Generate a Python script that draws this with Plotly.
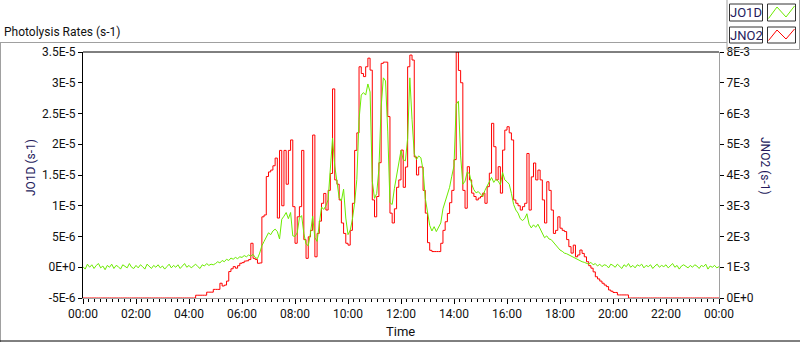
import plotly.graph_objects as go

# ---- data (5-minute samples, 00:00 .. 24:00) ----
STEP_MIN = 5
N_SAMPLES = 289
hours = [i * STEP_MIN / 60 for i in range(N_SAMPLES)]

# JO1D in units of 1E-6 s-1
jo1d_e6 = [
    0.1, -0.3, 0.5, 0.0, 0.4, -0.2, 0.3, 0.6, -0.1, 0.2, -0.4, 0.3,
    0.0, 0.5, -0.2, 0.3, 0.1, -0.3, 0.4, 0.2, -0.1, 0.6, 0.0, -0.2,
    0.3, -0.1, 0.4, 0.1, -0.3, 0.5, 0.2, -0.2, 0.3, 0.0, 0.4, -0.1,
    0.2, -0.3, 0.1, 0.5, -0.1, 0.3, 0.0, 0.4, -0.2, 0.2, 0.6, 0.0,
    0.3, -0.1, 0.2, 0.5, 0.1, -0.2, 0.4, 0.2, 0.6, 0.3, 0.5, 0.4,
    0.6, 0.9, 0.7, 1.1, 0.9, 1.3, 1.1, 1.5, 1.3, 1.6, 1.4, 1.7,
    1.6, 1.9, 1.7, 2.0, 1.8, 2.1, 1.6, 1.4, 2.3, 3.5, 4.2, 4.8,
    5.6, 5.3, 5.9, 6.2, 5.8, 4.6, 7.8, 8.3, 8.9, 7.9, 8.9, 5.1,
    5.0, 5.6, 8.0, 8.4, 5.5, 3.8, 3.5, 5.5, 8.3, 4.8, 4.2, 7.0,
    9.8, 9.4, 10.0, 11.0, 15.8, 21.0, 16.5, 13.5, 11.3, 10.8, 12.7, 8.0,
    5.3, 6.0, 7.8, 10.5, 14.3, 24.0, 28.0, 28.4, 28.0, 29.8, 28.5, 14.0,
    11.2, 12.0, 16.0, 26.0, 30.8, 30.3, 22.0, 10.5, 10.2, 12.8, 15.0, 16.8,
    19.0, 17.5, 17.3, 21.0, 30.8, 24.0, 18.5, 17.5, 18.1, 17.8, 15.8, 11.2,
    8.8, 6.8, 5.9, 6.6, 5.8, 6.5, 7.2, 9.5, 10.8, 11.9, 13.0, 14.8,
    16.5, 26.5, 27.0, 18.1, 13.5, 14.0, 15.5, 15.2, 13.5, 12.6, 12.1, 12.3,
    11.8, 11.5, 12.5, 13.2, 14.0, 14.6, 13.8, 14.3, 14.0, 13.4, 15.4, 14.2,
    13.9, 13.5, 12.0, 10.2, 9.3, 8.8, 7.9, 7.6, 7.9, 8.7, 7.0, 6.4,
    6.9, 6.5, 7.0, 6.3, 5.6, 4.8, 5.1, 4.6, 4.5, 4.1, 3.6, 3.2,
    2.8, 2.6, 2.3, 2.2, 2.0, 1.8, 1.6, 1.4, 1.3, 1.1, 0.9, 0.8,
    0.7, 0.5, 0.8, 0.4, 0.6, 0.2, 0.5, 0.1, 0.4, 0.3, -0.1, 0.5,
    0.3, 0.0, 0.5, 0.2, -0.2, 0.4, 0.1, 0.6, 0.0, 0.3, -0.1, 0.4,
    0.2, 0.5, -0.1, 0.3, 0.1, 0.4, -0.2, 0.2, 0.5, 0.0, 0.3, 0.1,
    0.4, -0.1, 0.2, 0.6, 0.0, 0.3, -0.3, 0.2, 0.4, 0.1, -0.1, 0.3,
    0.0, 0.4, 0.2, -0.2, 0.3, 0.1, 0.5, -0.3, 0.2, 0.0, 0.3, -0.1,
    0.1,
]

# JNO2 in units of 1E-3 s-1
jno2_e3 = [
    0, 0, 0, 0, 0, 0, 0, 0, 0, 0, 0, 0,
    0, 0, 0, 0, 0, 0, 0, 0, 0, 0, 0, 0,
    0, 0, 0, 0, 0, 0, 0, 0, 0, 0, 0, 0,
    0, 0, 0, 0, 0, 0, 0, 0, 0, 0, 0, 0,
    0, 0, 0, 0.09, 0.09, 0.09, 0.09, 0.09, 0.19, 0.19, 0.19, 0.28,
    0.28, 0.28, 0.48, 0.39, 0.42, 0.55, 0.86, 0.95, 1.02, 0.97, 1.05, 1.13,
    1.15, 1.2, 1.21, 1.25, 1.78, 1.29, 1.25, 1.13, 1.14, 2.64, 2.7, 3.95,
    4.1, 4.16, 4.3, 4.55, 2.6, 4.8, 3.0, 4.8, 3.7, 4.8, 5.14, 2.97,
    1.78, 2.64, 2.97, 4.8, 1.9, 1.29, 1.99, 2.2, 5.3, 1.34, 2.1, 2.5,
    3.08, 3.4, 2.86, 3.5, 4.05, 6.8, 3.84, 3.7, 3.19, 2.44, 2.1, 1.78,
    1.72, 2.2, 3.08, 4.8, 5.37, 7.52, 7.3, 7.2, 7.52, 7.8, 7.41, 3.19,
    2.64, 3.3, 4.4, 7.63, 7.67, 7.67, 5.9, 2.76, 2.44, 2.9, 3.6, 3.84,
    4.81, 3.6, 4.26, 7.52, 7.9, 7.74, 4.59, 4.0, 4.26, 4.26, 3.5, 2.76,
    1.8, 1.55, 1.51, 1.51, 1.51, 1.51, 1.78, 2.2, 2.48, 2.75, 3.1, 3.5,
    4.5, 8.0, 7.4, 7.0, 3.5, 2.92, 4.27, 3.84, 3.41, 3.3, 3.19, 3.25,
    3.3, 3.41, 3.08, 3.62, 4.06, 5.68, 4.92, 3.84, 4.27, 3.41, 4.81, 5.46,
    5.57, 5.37, 5.14, 3.19, 3.08, 3.0, 2.86, 2.97, 3.08, 4.7, 2.86, 3.94,
    4.39, 3.84, 4.16, 3.84, 3.19, 2.44, 3.78, 3.5, 2.86, 2.1, 2.2, 2.64,
    2.27, 2.2, 2.16, 1.9, 1.67, 1.46, 1.72, 1.34, 1.4, 1.56, 1.45, 1.34,
    1.18, 1.05, 0.97, 0.85, 0.69, 0.62, 0.55, 0.48, 0.42, 0.37, 0.26, 0.22,
    0.18, 0.18, 0.1, 0.1, 0.1, 0.1, 0.1, 0, 0, 0, 0, 0,
    0, 0, 0, 0, 0, 0, 0, 0, 0, 0, 0, 0,
    0, 0, 0, 0, 0, 0, 0, 0, 0, 0, 0, 0,
    0, 0, 0, 0, 0, 0, 0, 0, 0, 0, 0, 0,
    0,
]

x_tickvals = [0, 2, 4, 6, 8, 10, 12, 14, 16, 18, 20, 22, 24]
x_ticktext = ["00:00", "02:00", "04:00", "06:00", "08:00", "10:00", "12:00",
              "14:00", "16:00", "18:00", "20:00", "22:00", "00:00"]
left_tickvals = [-5, 0, 5, 10, 15, 20, 25, 30, 35]
left_ticktext = ["-5E-6", "0E+0", "5E-6", "1E-5", "1.5E-5", "2E-5", "2.5E-5", "3E-5", "3.5E-5"]
right_tickvals = [0, 1, 2, 3, 4, 5, 6, 7, 8]
right_ticktext = ["0E+0", "1E-3", "2E-3", "3E-3", "4E-3", "5E-3", "6E-3", "7E-3", "8E-3"]

GREEN = "#6CEB00"
RED = "#FF0000"
FONT = "Roboto"
TXT = "#111111"
TITLE_TXT = "#251a5c"

W, H = 800, 342
L, R, T, B = 83, 81, 52, 44
PW, PH = W - L - R, H - T - B


def px(x):
    return (x - L) / PW


def py(y):
    return (H - B - y) / PH


fig = go.Figure()
fig.add_trace(go.Scatter(x=hours, y=jno2_e3, mode="lines", name="JNO2",
                         line=dict(color=RED, width=1, shape="hv"), yaxis="y"))
fig.add_trace(go.Scatter(x=hours, y=jo1d_e6, mode="lines", name="JO1D",
                         line=dict(color=GREEN, width=1), yaxis="y2"))

minor_vals = [i * 2 / 9 for i in range(109)]

fig.update_layout(
    width=W, height=H, autosize=False,
    margin=dict(l=L, r=R, t=T, b=B, pad=0),
    paper_bgcolor="white", plot_bgcolor="white",
    showlegend=False,
    font=dict(family=FONT, size=12, color=TXT),
    xaxis=dict(range=[0, 24], tickmode="array", tickvals=x_tickvals, ticktext=x_ticktext,
               showgrid=False, zeroline=False, showline=True, linecolor="#a0a0a0", linewidth=1,
               ticks="outside", ticklen=5, tickcolor="#000", tickwidth=1,
               tickfont=dict(family=FONT, size=12, color=TXT),
               minor=dict(tickmode="array", tickvals=minor_vals, ticks="outside",
                          ticklen=3, tickcolor="#000", tickwidth=1, showgrid=False)),
    yaxis=dict(range=[0, 8], side="right", tickmode="array", tickvals=right_tickvals,
               ticktext=right_ticktext, showgrid=False, zeroline=False, showline=True,
               linecolor="#a0a0a0", linewidth=1, ticks="outside", ticklen=4, tickcolor="#000",
               tickfont=dict(family=FONT, size=12, color=TXT)),
    yaxis2=dict(range=[-5, 35], side="left", overlaying="y", tickmode="array",
                tickvals=left_tickvals, ticktext=left_ticktext, showgrid=False, zeroline=False,
                showline=True, linecolor="#000", linewidth=1, ticks="outside", ticklen=4,
                tickcolor="#000", tickfont=dict(family=FONT, size=12, color=TXT)),
)

shapes = [
    # top black border of plot area
    dict(type="line", xref="paper", yref="paper", x0=0, x1=1, y0=1, y1=1,
         line=dict(color="#000", width=1)),
    # outer panel frame
    dict(type="line", xref="paper", yref="paper", x0=px(0), x1=px(727), y0=py(42.5), y1=py(42.5),
         line=dict(color="#a0a0a0", width=1)),
    dict(type="line", xref="paper", yref="paper", x0=px(0.5), x1=px(0.5), y0=py(42.5), y1=py(342),
         line=dict(color="#a0a0a0", width=1)),
    dict(type="line", xref="paper", yref="paper", x0=px(0), x1=px(800), y0=py(341), y1=py(341),
         line=dict(color="#000", width=1)),
    # legend panel
    dict(type="line", xref="paper", yref="paper", x0=px(727), x1=px(727), y0=py(0), y1=py(49.5),
         line=dict(color="#a0a0a0", width=1)),
    dict(type="line", xref="paper", yref="paper", x0=px(727), x1=px(799.5), y0=py(49.5), y1=py(49.5),
         line=dict(color="#a0a0a0", width=1)),
    dict(type="line", xref="paper", yref="paper", x0=px(799.5), x1=px(799.5), y0=py(0), y1=py(49.5),
         line=dict(color="#a0a0a0", width=1)),
]

legend_items = [("JO1D", GREEN, 4, 21), ("JNO2", RED, 27, 43)]
annotations = []
for name, color, y0, y1 in legend_items:
    shapes.append(dict(type="rect", xref="paper", yref="paper", x0=px(729.5), x1=px(762.5),
                       y0=py(y1), y1=py(y0), line=dict(color="#333", width=1)))
    shapes.append(dict(type="rect", xref="paper", yref="paper", x0=px(767.5), x1=px(795.5),
                       y0=py(y1), y1=py(y0), line=dict(color="#333", width=1)))
    zig_x = [768.5, 777, 786, 794.5]
    zig_y = [y1 - 2.5, y0 + 3, y1 - 4, y0 + 2]
    path = "M " + " L ".join(f"{px(a)},{py(b)}" for a, b in zip(zig_x, zig_y))
    shapes.append(dict(type="path", xref="paper", yref="paper", path=path,
                       line=dict(color=color, width=1)))
    annotations.append(dict(x=px(746), y=py((y0 + y1) / 2), xref="paper", yref="paper",
                            text=name, showarrow=False, xanchor="center", yanchor="middle",
                            font=dict(family=FONT, size=13, color=TITLE_TXT)))

annotations += [
    dict(x=px(2), y=py(32), xref="paper", yref="paper", text="Photolysis Rates (s-1)",
         showarrow=False, xanchor="left", yanchor="middle",
         font=dict(family=FONT, size=12, color=TXT)),
    dict(x=px(31), y=py(168), xref="paper", yref="paper", text="JO1D (s-1)", textangle=-90,
         showarrow=False, xanchor="center", yanchor="middle",
         font=dict(family=FONT, size=12, color=TITLE_TXT)),
    dict(x=px(765), y=py(166), xref="paper", yref="paper", text="JNO2 (s-1)", textangle=90,
         showarrow=False, xanchor="center", yanchor="middle",
         font=dict(family=FONT, size=12, color=TITLE_TXT)),
    dict(x=px(400), y=py(331), xref="paper", yref="paper", text="Time",
         showarrow=False, xanchor="center", yanchor="middle",
         font=dict(family=FONT, size=13, color=TXT)),
]

fig.update_layout(shapes=shapes, annotations=annotations)
fig.write_html("out.html", config={"displayModeBar": False},
               post_script="document.body.style.margin='0px';")
